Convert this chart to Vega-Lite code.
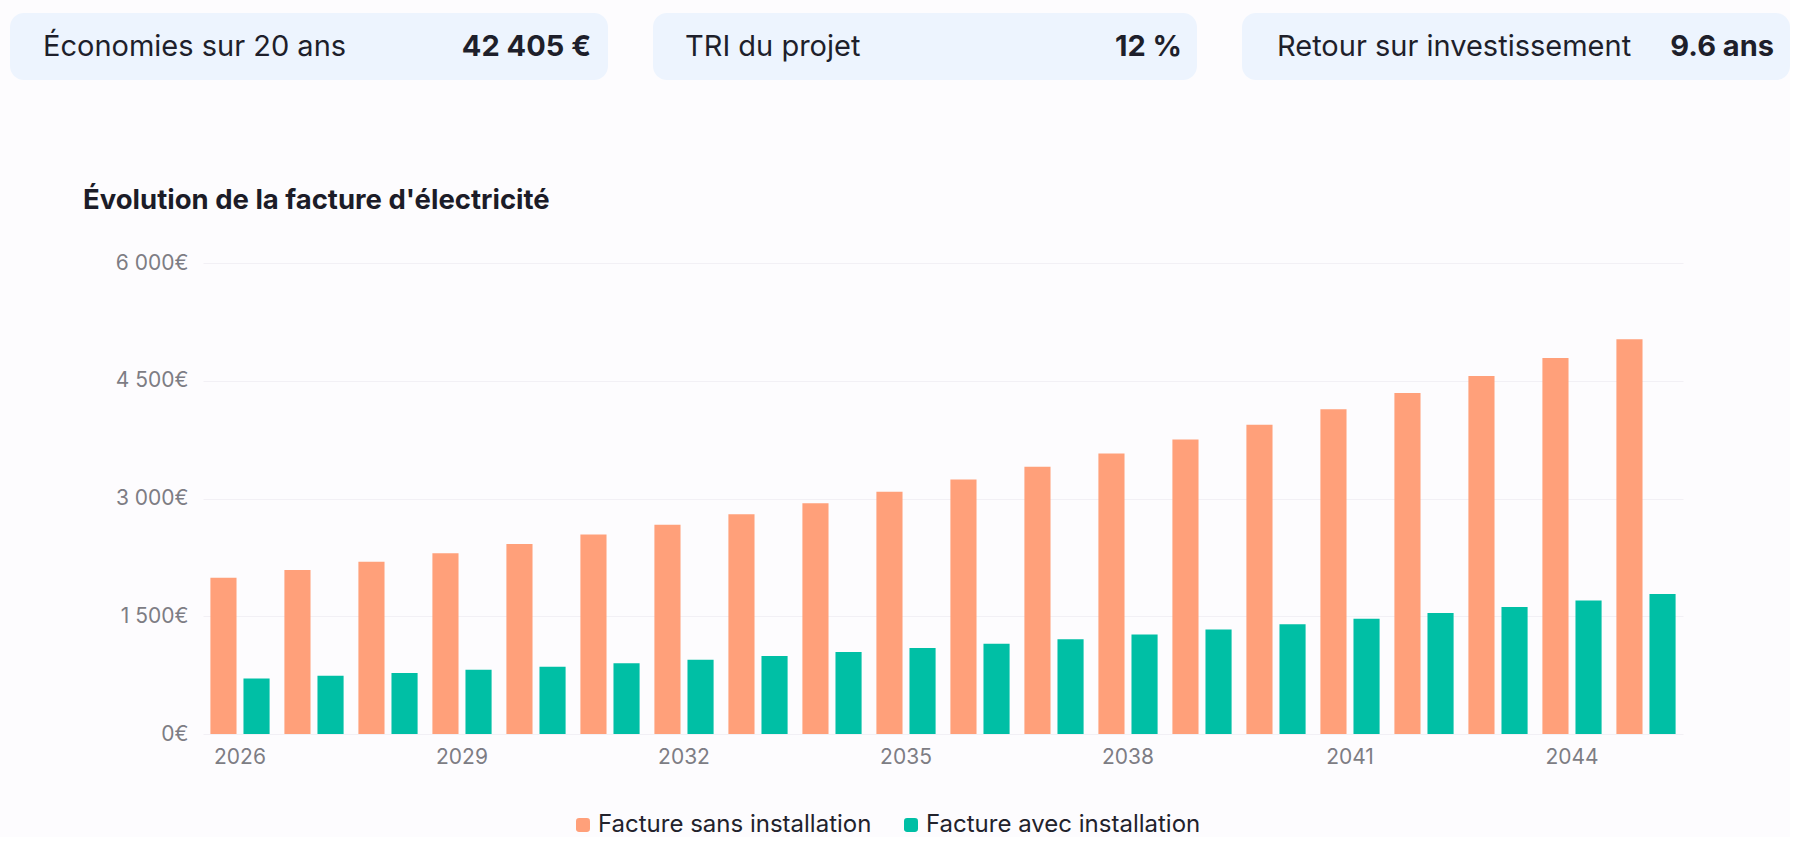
{
  "$schema": "https://vega.github.io/schema/vega-lite/v6.json",
  "background": "#fdfcfe",
  "padding": {"left": 10, "top": 13, "right": 0, "bottom": 0},
  "config": {
    "font": "Inter",
    "view": {"stroke": null},
    "axis": {"labelFont": "Inter", "labelColor": "#7d7d84", "labelFontSize": 21, "domain": false, "ticks": false, "title": null}
  },
  "spacing": 106,
  "vconcat": [
    {
      "spacing": 45,
      "hconcat": [
        {
          "width": 598, "height": 67,
          "view": {"fill": "#edf4fe", "cornerRadius": 14, "stroke": null},
          "data": {"values": [
            {"role": "libellé", "texte": "Économies sur 20 ans"},
            {"role": "valeur", "texte": "42 405 €"}
          ]},
          "layer": [
            {
              "transform": [{"filter": "datum.role == 'libellé'"}],
              "mark": {"type": "text", "align": "left", "baseline": "middle", "fontSize": 29, "color": "#1e1f2b"},
              "encoding": {
                "x": {"field": "role", "type": "nominal", "scale": {"type": "point", "padding": 0, "domain": ["libellé", "valeur"], "range": [33, 581]}, "axis": null},
                "text": {"field": "texte"}
              }
            },
            {
              "transform": [{"filter": "datum.role == 'valeur'"}],
              "mark": {"type": "text", "align": "right", "baseline": "middle", "fontSize": 29, "fontWeight": "bold", "color": "#1e1f2b"},
              "encoding": {
                "x": {"field": "role", "type": "nominal", "scale": {"type": "point", "padding": 0, "domain": ["libellé", "valeur"], "range": [33, 581]}, "axis": null},
                "text": {"field": "texte"}
              }
            }
          ]
        },
        {
          "width": 544, "height": 67,
          "view": {"fill": "#edf4fe", "cornerRadius": 14, "stroke": null},
          "data": {"values": [
            {"role": "libellé", "texte": "TRI du projet"},
            {"role": "valeur", "texte": "12 %"}
          ]},
          "layer": [
            {
              "transform": [{"filter": "datum.role == 'libellé'"}],
              "mark": {"type": "text", "align": "left", "baseline": "middle", "fontSize": 29, "color": "#1e1f2b"},
              "encoding": {
                "x": {"field": "role", "type": "nominal", "scale": {"type": "point", "padding": 0, "domain": ["libellé", "valeur"], "range": [32, 529]}, "axis": null},
                "text": {"field": "texte"}
              }
            },
            {
              "transform": [{"filter": "datum.role == 'valeur'"}],
              "mark": {"type": "text", "align": "right", "baseline": "middle", "fontSize": 29, "fontWeight": "bold", "color": "#1e1f2b"},
              "encoding": {
                "x": {"field": "role", "type": "nominal", "scale": {"type": "point", "padding": 0, "domain": ["libellé", "valeur"], "range": [32, 529]}, "axis": null},
                "text": {"field": "texte"}
              }
            }
          ]
        },
        {
          "width": 548, "height": 67,
          "view": {"fill": "#edf4fe", "cornerRadius": 14, "stroke": null},
          "data": {"values": [
            {"role": "libellé", "texte": "Retour sur investissement"},
            {"role": "valeur", "texte": "9.6 ans"}
          ]},
          "layer": [
            {
              "transform": [{"filter": "datum.role == 'libellé'"}],
              "mark": {"type": "text", "align": "left", "baseline": "middle", "fontSize": 29, "color": "#1e1f2b"},
              "encoding": {
                "x": {"field": "role", "type": "nominal", "scale": {"type": "point", "padding": 0, "domain": ["libellé", "valeur"], "range": [35, 532]}, "axis": null},
                "text": {"field": "texte"}
              }
            },
            {
              "transform": [{"filter": "datum.role == 'valeur'"}],
              "mark": {"type": "text", "align": "right", "baseline": "middle", "fontSize": 29, "fontWeight": "bold", "color": "#1e1f2b"},
              "encoding": {
                "x": {"field": "role", "type": "nominal", "scale": {"type": "point", "padding": 0, "domain": ["libellé", "valeur"], "range": [35, 532]}, "axis": null},
                "text": {"field": "texte"}
              }
            }
          ]
        }
      ]
    },
    {
      "width": 1673,
      "height": 471,
      "title": {"text": "Évolution de la facture d'électricité", "anchor": "start", "dx": 73, "fontSize": 27.5, "fontWeight": "bold", "color": "#1c1c28", "font": "Inter", "offset": 38},
      "data": {"values": [
        {"annee": 2026, "serie": "Facture sans installation", "montant": 1990},
        {"annee": 2027, "serie": "Facture sans installation", "montant": 2090},
        {"annee": 2028, "serie": "Facture sans installation", "montant": 2194},
        {"annee": 2029, "serie": "Facture sans installation", "montant": 2304},
        {"annee": 2030, "serie": "Facture sans installation", "montant": 2419},
        {"annee": 2031, "serie": "Facture sans installation", "montant": 2540},
        {"annee": 2032, "serie": "Facture sans installation", "montant": 2667},
        {"annee": 2033, "serie": "Facture sans installation", "montant": 2800},
        {"annee": 2034, "serie": "Facture sans installation", "montant": 2940},
        {"annee": 2035, "serie": "Facture sans installation", "montant": 3087},
        {"annee": 2036, "serie": "Facture sans installation", "montant": 3241},
        {"annee": 2037, "serie": "Facture sans installation", "montant": 3403},
        {"annee": 2038, "serie": "Facture sans installation", "montant": 3574},
        {"annee": 2039, "serie": "Facture sans installation", "montant": 3752},
        {"annee": 2040, "serie": "Facture sans installation", "montant": 3940},
        {"annee": 2041, "serie": "Facture sans installation", "montant": 4137},
        {"annee": 2042, "serie": "Facture sans installation", "montant": 4344},
        {"annee": 2043, "serie": "Facture sans installation", "montant": 4561},
        {"annee": 2044, "serie": "Facture sans installation", "montant": 4789},
        {"annee": 2045, "serie": "Facture sans installation", "montant": 5028},
        {"annee": 2026, "serie": "Facture avec installation", "montant": 706},
        {"annee": 2027, "serie": "Facture avec installation", "montant": 741},
        {"annee": 2028, "serie": "Facture avec installation", "montant": 778},
        {"annee": 2029, "serie": "Facture avec installation", "montant": 817},
        {"annee": 2030, "serie": "Facture avec installation", "montant": 858},
        {"annee": 2031, "serie": "Facture avec installation", "montant": 901},
        {"annee": 2032, "serie": "Facture avec installation", "montant": 946},
        {"annee": 2033, "serie": "Facture avec installation", "montant": 993},
        {"annee": 2034, "serie": "Facture avec installation", "montant": 1043},
        {"annee": 2035, "serie": "Facture avec installation", "montant": 1095},
        {"annee": 2036, "serie": "Facture avec installation", "montant": 1150},
        {"annee": 2037, "serie": "Facture avec installation", "montant": 1208},
        {"annee": 2038, "serie": "Facture avec installation", "montant": 1268},
        {"annee": 2039, "serie": "Facture avec installation", "montant": 1332},
        {"annee": 2040, "serie": "Facture avec installation", "montant": 1398},
        {"annee": 2041, "serie": "Facture avec installation", "montant": 1468},
        {"annee": 2042, "serie": "Facture avec installation", "montant": 1542},
        {"annee": 2043, "serie": "Facture avec installation", "montant": 1619},
        {"annee": 2044, "serie": "Facture avec installation", "montant": 1700},
        {"annee": 2045, "serie": "Facture avec installation", "montant": 1784}
      ]},
      "mark": {"type": "bar"},
      "encoding": {
        "x": {
          "field": "annee", "type": "ordinal",
          "scale": {"paddingInner": 0.2, "paddingOuter": 0.1, "range": [193, 1673]},
          "axis": {"values": [2026, 2029, 2032, 2035, 2038, 2041, 2044], "labelAngle": 0, "labelPadding": 12, "grid": false}
        },
        "xOffset": {
          "field": "serie", "type": "nominal",
          "scale": {"domain": ["Facture sans installation", "Facture avec installation"], "paddingInner": 0.21}
        },
        "y": {
          "field": "montant", "type": "quantitative",
          "scale": {"domain": [0, 6000], "nice": false},
          "axis": {"values": [0, 1500, 3000, 4500, 6000], "labelExpr": "replace(format(datum.value, ','), ',', ' ') + '€'", "labelAlign": "right", "labelPadding": -178, "minExtent": 0, "grid": true, "gridColor": "#f2f0f5", "gridWidth": 1}
        },
        "color": {
          "field": "serie", "type": "nominal",
          "scale": {"domain": ["Facture sans installation", "Facture avec installation"], "range": ["#FFA07A", "#00BFA5"]},
          "legend": {
            "title": null, "orient": "none", "direction": "horizontal",
            "legendX": 561, "legendY": 800,
            "symbolType": "M-0.55,-1H0.55Q1,-1 1,-0.55V0.55Q1,1 0.55,1H-0.55Q-1,1 -1,0.55V-0.55Q-1,-1 -0.55,-1Z",
            "symbolSize": 196, "symbolStrokeWidth": 0, "labelLimit": 0,
            "labelFont": "Inter", "labelFontSize": 24, "labelColor": "#22222c", "labelOffset": 3,
            "columnPadding": 27
          }
        }
      }
    }
  ]
}
